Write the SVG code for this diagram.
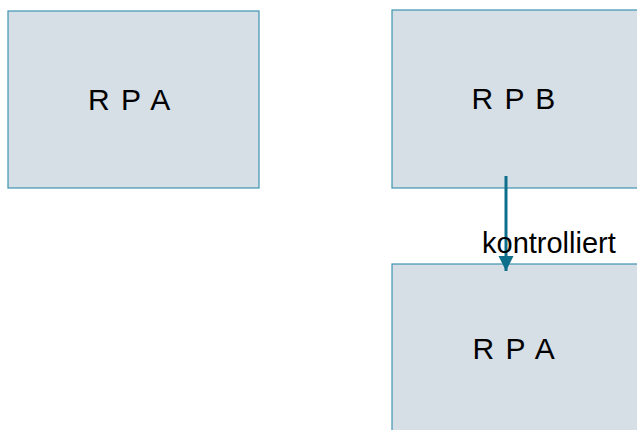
<svg xmlns="http://www.w3.org/2000/svg" width="637" height="430" viewBox="0 0 637 430">
  <defs>
    <style>
      .box { fill: #d6dee6; stroke: #3f93b3; stroke-width: 1.2; }
      .lbl { font-family: "Liberation Sans", Arial, sans-serif; font-size: 30px; fill: #000; letter-spacing: 1.5px; }
      .edge { stroke: #0e6f8c; stroke-width: 3; fill: none; }
      .elbl { font-family: "Liberation Sans", Arial, sans-serif; font-size: 29px; fill: #000; }
    </style>
    <marker id="arrow" markerUnits="userSpaceOnUse" markerWidth="16" markerHeight="16" refX="15" refY="8" orient="auto">
      <path d="M0,0.5 L15,8 L0,15.5 Z" fill="#0e6f8c"/>
    </marker>
  </defs>

  <g id="node-rpa-left">
    <rect class="box" x="8" y="11" width="251" height="177"/>
    <text class="lbl" x="88" y="110">R P A</text>
  </g>

  <g id="node-rpb">
    <rect class="box" x="392" y="10" width="260" height="178"/>
    <text class="lbl" x="471.5" y="108.5">R P B</text>
  </g>

  <g id="node-rpa-bottom">
    <rect class="box" x="392" y="264" width="260" height="180"/>
    <text class="lbl" x="472.5" y="358.5">R P A</text>
  </g>

  <g id="connectors">
    <line class="edge" x1="506" y1="176" x2="506" y2="271" marker-end="url(#arrow)"/>
    <text class="elbl" x="482" y="253">kontrolliert</text>
  </g>
</svg>
